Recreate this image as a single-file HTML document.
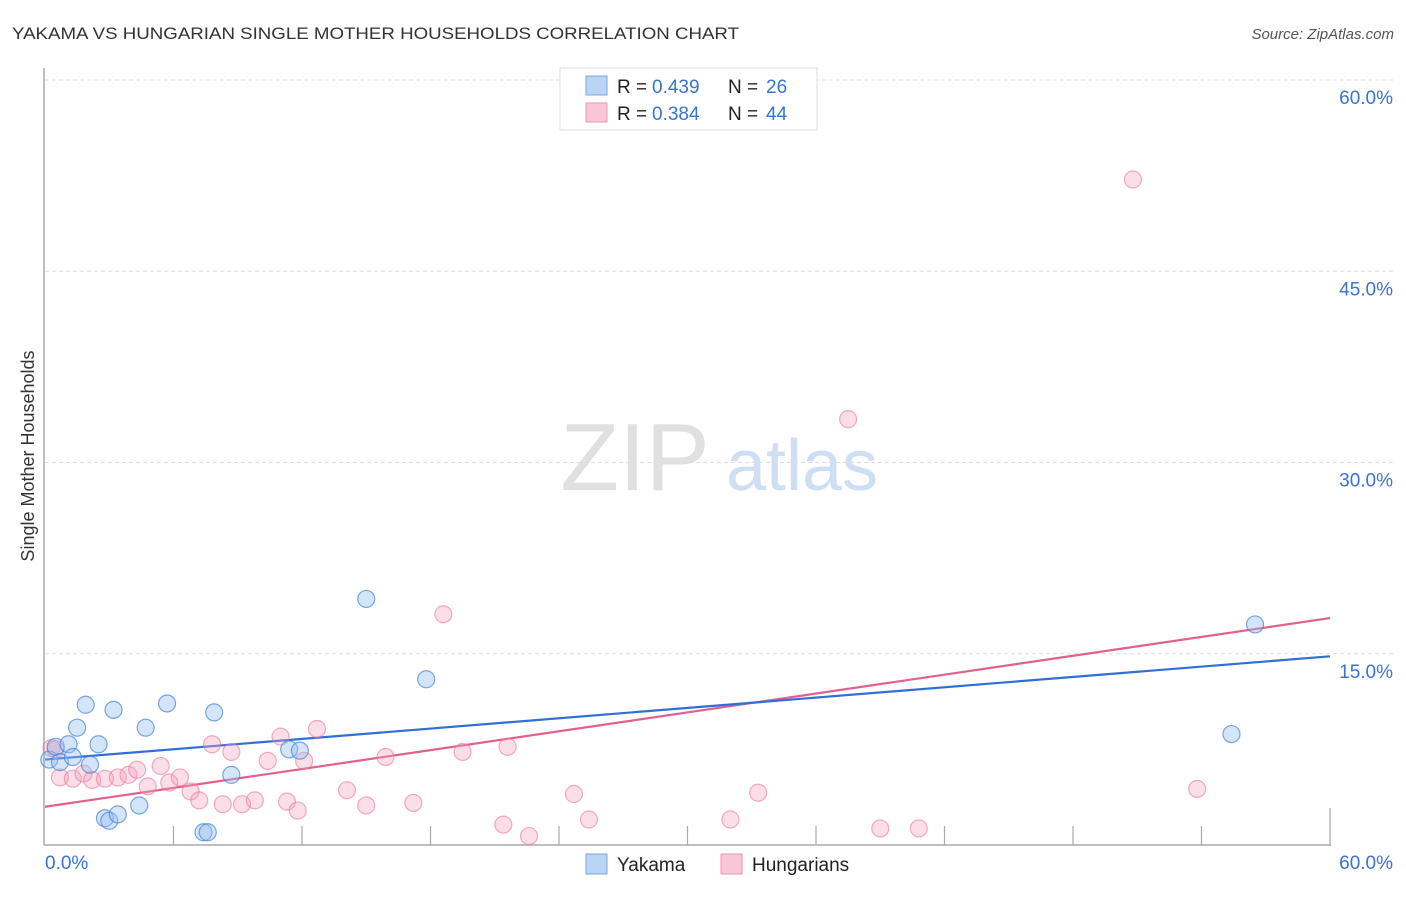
<!DOCTYPE html>
<html><head><meta charset="utf-8"><style>
body{margin:0;background:#fff;font-family:"Liberation Sans",sans-serif;}
svg text{font-family:"Liberation Sans",sans-serif;}
</style></head><body>
<svg width="1406" height="892" xmlns="http://www.w3.org/2000/svg" id="chart">
<text x="12" y="39" font-size="17" fill="#333" textLength="727" lengthAdjust="spacingAndGlyphs">YAKAMA VS HUNGARIAN SINGLE MOTHER HOUSEHOLDS CORRELATION CHART</text>
<text x="1394" y="39" font-size="15" fill="#555" text-anchor="end" font-style="italic">Source: ZipAtlas.com</text>
<text x="34" y="456" font-size="18" fill="#333" text-anchor="middle" transform="rotate(-90 34 456)">Single Mother Households</text>
<g>
<text x="635" y="490" font-size="96" fill="#e0e0e0" text-anchor="middle" font-family="Liberation Serif,serif">ZIP</text>
<text x="802" y="490" font-size="72" fill="#cfdff3" text-anchor="middle">atlas</text>
</g>
<g id="grid"></g>
<g id="axes"></g>
<g id="lines"></g>
<g id="points"></g>
<g>
<rect x="560" y="68" width="257" height="62" fill="#fff" stroke="#ddd"/>
<rect x="586" y="76" width="21" height="19" fill="#b9d4f5" stroke="#7aa7e0"/>
<rect x="586" y="103" width="21" height="19" fill="#f9c6d6" stroke="#ef95b4"/>
<text x="617" y="93" font-size="19" fill="#222">R =</text>
<text x="652" y="93" font-size="19" fill="#3a73d0">0.439</text>
<text x="728" y="93" font-size="19" fill="#222">N =</text>
<text x="766" y="93" font-size="19" fill="#3a73d0">26</text>
<text x="617" y="120" font-size="19" fill="#222">R =</text>
<text x="652" y="120" font-size="19" fill="#3a73d0">0.384</text>
<text x="728" y="120" font-size="19" fill="#222">N =</text>
<text x="766" y="120" font-size="19" fill="#3a73d0">44</text>
</g>
<g>
<rect x="586" y="854" width="21" height="20" fill="#b9d4f5" stroke="#7aa7e0"/>
<text x="617" y="871" font-size="19" fill="#222">Yakama</text>
<rect x="721" y="854" width="21" height="20" fill="#f9c6d6" stroke="#ef95b4"/>
<text x="752" y="871" font-size="19" fill="#222">Hungarians</text>
</g>
<script>
const yTicks=[15,30,45,60];
const yTickLabels=["15.0%","30.0%","45.0%","60.0%"];
const xTicks=[6,12,18,24,30,36,42,48,54,60];
const yakamaX=[0.2,0.5,0.7,1.1,1.3,1.5,1.9,2.1,2.5,3.2,2.8,3.0,3.4,4.4,4.7,5.7,7.4,7.6,7.9,8.7,11.4,11.9,15.0,17.8,55.4,56.5];
const yakamaY=[6.7,7.7,6.5,7.9,6.9,9.2,11.0,6.3,7.9,10.6,2.1,1.9,2.4,3.1,9.2,11.1,1.0,1.0,10.4,5.5,7.5,7.4,19.3,13.0,8.7,17.3];
const hungX=[0.3,0.5,0.7,1.3,1.8,2.2,2.8,3.4,3.9,4.3,4.8,5.4,5.8,6.3,6.8,7.2,7.8,8.3,8.7,9.2,9.8,10.4,11.0,11.3,11.8,12.1,12.7,14.1,15.0,15.9,17.2,18.6,19.5,21.4,21.6,22.6,24.7,25.4,32.0,33.3,37.5,39.0,40.8,50.8];
const hungY=[7.6,7.5,5.3,5.2,5.6,5.1,5.2,5.3,5.5,5.9,4.6,6.2,4.9,5.3,4.2,3.5,7.9,3.2,7.3,3.2,3.5,6.6,8.5,3.4,2.7,6.6,9.1,4.3,3.1,6.9,3.3,18.1,7.3,1.6,7.7,0.7,4.0,2.0,2.0,4.1,33.4,1.3,1.3,52.2];
const hungExtraX=[53.8];const hungExtraY=[4.4];
const yakamaFit=[6.7,14.8];
const hungFit=[3.0,17.8];
const NS="http://www.w3.org/2000/svg";
const X=v=>45+v*(1285/60), Y=v=>845-v*(765/60);
function mk(t,a,p){const e=document.createElementNS(NS,t);for(const k in a)e.setAttribute(k,a[k]);p.appendChild(e);return e;}
const grid=document.getElementById('grid'),axes=document.getElementById('axes'),lines=document.getElementById('lines'),pts=document.getElementById('points');
yTicks.forEach((t,i)=>{
 const l=mk('line',{x1:45,x2:1394,y1:Y(t),y2:Y(t),stroke:'#ddd','stroke-dasharray':'4 3'},grid);
 
 
 const tx=mk('text',{x:1393,y:Y(t)+24,'font-size':19,fill:'#3a73d0','text-anchor':'end'},grid);tx.textContent=yTickLabels[i];
 
 
});
let a=mk('line',{x1:44,x2:44,y1:68,y2:845,stroke:'#aaa','stroke-width':1.5},axes);


a=mk('line',{x1:44,x2:1331,y1:845,y2:845,stroke:'#aaa','stroke-width':1.5},axes);


xTicks.forEach(t=>{const l=mk('line',{x1:X(t),x2:X(t),y1:t==60?808:826,y2:845,stroke:'#aaa','stroke-width':1.2},axes);
 
 });
let t0=mk('text',{x:45,y:869,'font-size':19,fill:'#3a73d0'},axes);t0.textContent='0.0%';


t0=mk('text',{x:1393,y:869,'font-size':19,fill:'#3a73d0','text-anchor':'end'},axes);t0.textContent='60.0%';


const hx=hungX.concat(hungExtraX),hy=hungY.concat(hungExtraY);
hx.forEach((x,i)=>{const c=mk('circle',{cx:X(x),cy:Y(hy[i]),r:8.5,fill:'rgba(244,160,190,0.35)',stroke:'rgba(232,120,160,0.6)','stroke-width':1.2},pts);
 
 });
yakamaX.forEach((x,i)=>{const c=mk('circle',{cx:X(x),cy:Y(yakamaY[i]),r:8.5,fill:'rgba(150,190,240,0.4)',stroke:'rgba(70,130,215,0.7)','stroke-width':1.2},pts);
 
 });
let f=mk('line',{x1:X(0),x2:X(60),y1:Y(hungFit[0]),y2:Y(hungFit[1]),stroke:'#e2608f','stroke-width':2.2},lines);


f=mk('line',{x1:X(0),x2:X(60),y1:Y(yakamaFit[0]),y2:Y(yakamaFit[1]),stroke:'#2f6fd6','stroke-width':2.2},lines);


</script>
</svg>
</body></html>
